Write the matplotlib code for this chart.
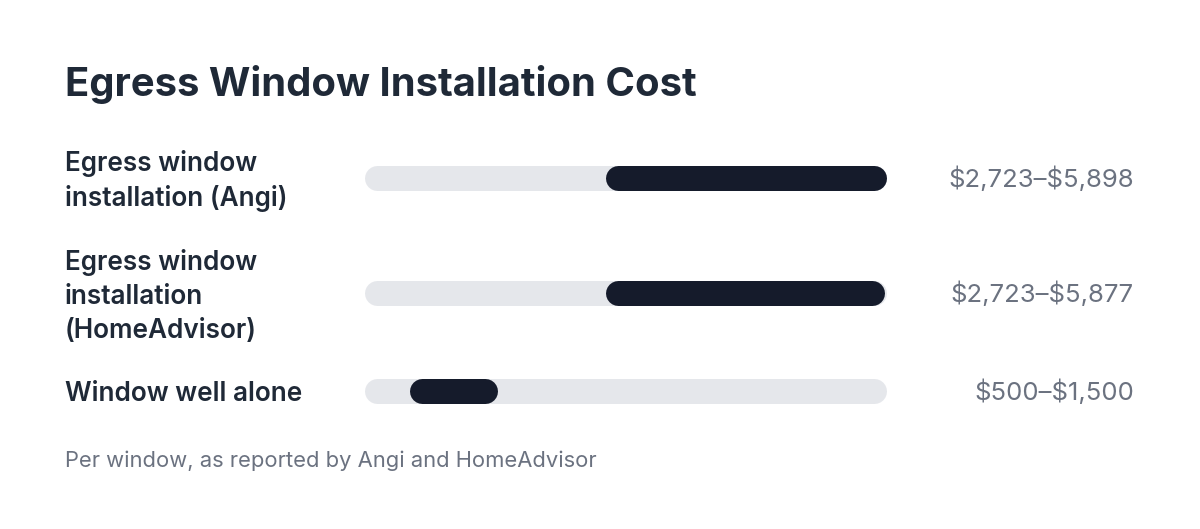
import matplotlib
matplotlib.use("Agg")
import matplotlib.pyplot as plt

# data
labels = ["Egress window\ninstallation (Angi)",
          "Egress window\ninstallation\n(HomeAdvisor)",
          "Window well alone"]
low = [2723, 2723, 500]
high = [5898, 5877, 1500]
value_text = ["$2,723\u2013$5,898", "$2,723\u2013$5,877", "$500\u2013$1,500"]
title = "Egress Window Installation Cost"
note = "Per window, as reported by Angi and HomeAdvisor"

# layout (pixels from top)
W, H = 1200, 529
row_y = [178, 293, 391]
bar_h = 25
track_x0, track_x1 = 365, 886

plt.rcParams["font.family"] = ["Inter", "DejaVu Sans"]
fig = plt.figure(figsize=(W / 100, H / 100), dpi=100)
fig.patch.set_facecolor("white")

ax_top, ax_bot = 140, 420
ax = fig.add_axes([track_x0 / W, 1 - ax_bot / H,
                   (track_x1 - track_x0) / W, (ax_bot - ax_top) / H])
xmax = max(high)
ax.set_xlim(0, xmax)
ax.set_ylim(ax_bot, ax_top)
ax.axis("off")

# round caps stick out half the line width, so pull the ends in by that much
r = bar_h / 2 * xmax / (track_x1 - track_x0)
lw = bar_h * 72 / 100

def pill(x0, x1, yc, color, z):
    ax.plot([x0 + r, x1 - r], [yc, yc], color=color, lw=lw,
            solid_capstyle="round", zorder=z, clip_on=False)

for i in range(len(labels)):
    pill(0, xmax, row_y[i], "#e5e7eb", 1)
    pill(low[i], high[i], row_y[i], "#151b2b", 2)

def fy(px):
    return 1 - px / H

fig.text(65 / W, fy(84), title, fontsize=28.8, fontweight="bold",
         color="#1f2937", va="center", ha="left")
for i in range(len(labels)):
    fig.text(65 / W, fy(row_y[i] + 3), labels[i], fontsize=18.8,
             fontweight="semibold", color="#1f2937", va="center", ha="left",
             linespacing=1.4)
    fig.text(1134 / W, fy(row_y[i] + 1), value_text[i], fontsize=18.5,
             color="#6b7280", va="center", ha="right", parse_math=False)
fig.text(65 / W, fy(461), note, fontsize=15.8, color="#6b7280",
         va="center", ha="left")

fig.savefig("out.png", dpi=100, facecolor="white")
